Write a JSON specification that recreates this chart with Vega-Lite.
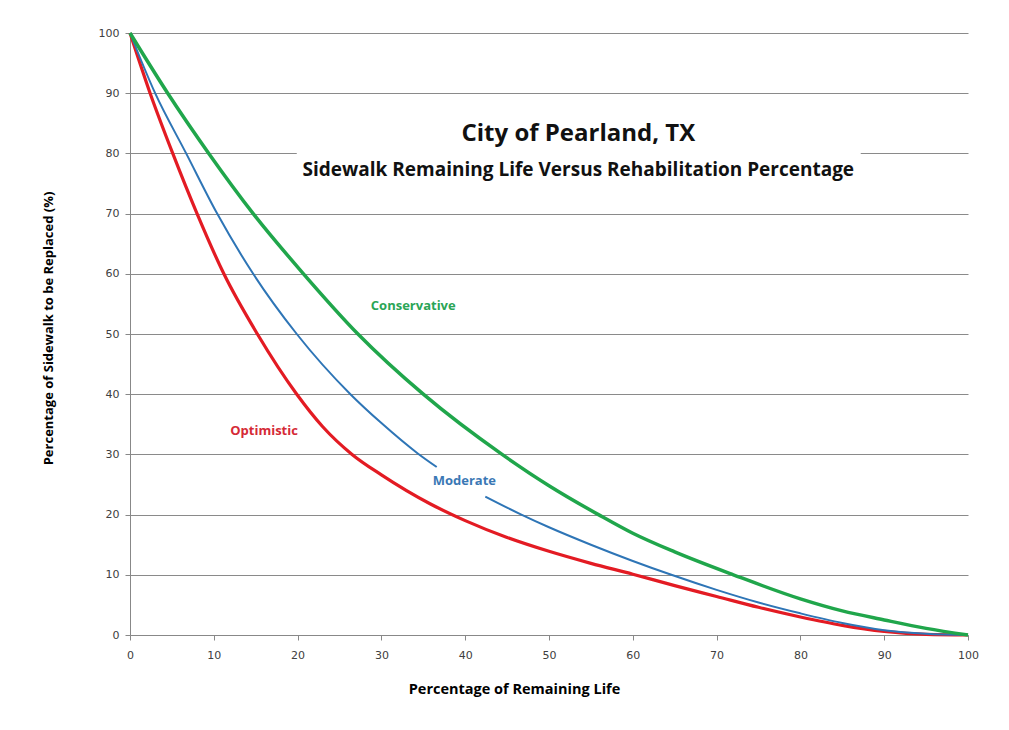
{
  "$schema": "https://vega.github.io/schema/vega-lite/v6.json",
  "width": 838,
  "height": 602,
  "autosize": {"type": "none"},
  "padding": {"left": 130, "top": 33, "right": 41, "bottom": 95},
  "background": "white",
  "config": {"view": {"stroke": null}, "font": "Open Sans"},
  "layer": [
    {
      "data": {
        "values": [
          {"series": "Optimistic", "seg": "o", "x": 0, "y": 100},
          {"series": "Optimistic", "seg": "o", "x": 2.4, "y": 90},
          {"series": "Optimistic", "seg": "o", "x": 5.1, "y": 80},
          {"series": "Optimistic", "seg": "o", "x": 8, "y": 70},
          {"series": "Optimistic", "seg": "o", "x": 11.2, "y": 60},
          {"series": "Optimistic", "seg": "o", "x": 15.2, "y": 50},
          {"series": "Optimistic", "seg": "o", "x": 19.9, "y": 40},
          {"series": "Optimistic", "seg": "o", "x": 23, "y": 34.6},
          {"series": "Optimistic", "seg": "o", "x": 26.5, "y": 30},
          {"series": "Optimistic", "seg": "o", "x": 30, "y": 26.6},
          {"series": "Optimistic", "seg": "o", "x": 35.8, "y": 21.8},
          {"series": "Optimistic", "seg": "o", "x": 40, "y": 19},
          {"series": "Optimistic", "seg": "o", "x": 45, "y": 16.2},
          {"series": "Optimistic", "seg": "o", "x": 50, "y": 13.9},
          {"series": "Optimistic", "seg": "o", "x": 55, "y": 11.9},
          {"series": "Optimistic", "seg": "o", "x": 60, "y": 10.1},
          {"series": "Optimistic", "seg": "o", "x": 65, "y": 8.2},
          {"series": "Optimistic", "seg": "o", "x": 70, "y": 6.4},
          {"series": "Optimistic", "seg": "o", "x": 75, "y": 4.6},
          {"series": "Optimistic", "seg": "o", "x": 80, "y": 3},
          {"series": "Optimistic", "seg": "o", "x": 85, "y": 1.6},
          {"series": "Optimistic", "seg": "o", "x": 90, "y": 0.6},
          {"series": "Optimistic", "seg": "o", "x": 95, "y": 0.1},
          {"series": "Optimistic", "seg": "o", "x": 100, "y": 0},
          {"series": "Moderate", "seg": "m1", "x": 0, "y": 100},
          {"series": "Moderate", "seg": "m1", "x": 3, "y": 90},
          {"series": "Moderate", "seg": "m1", "x": 6.7, "y": 80},
          {"series": "Moderate", "seg": "m1", "x": 10.4, "y": 70},
          {"series": "Moderate", "seg": "m1", "x": 14.7, "y": 60},
          {"series": "Moderate", "seg": "m1", "x": 19.9, "y": 50},
          {"series": "Moderate", "seg": "m1", "x": 26.3, "y": 40},
          {"series": "Moderate", "seg": "m1", "x": 30, "y": 35.2},
          {"series": "Moderate", "seg": "m1", "x": 34.3, "y": 30.2},
          {"series": "Moderate", "seg": "m1", "x": 36.6, "y": 27.9},
          {"series": "Moderate", "seg": "m2", "x": 42.4, "y": 23},
          {"series": "Moderate", "seg": "m2", "x": 46.7, "y": 20},
          {"series": "Moderate", "seg": "m2", "x": 50, "y": 17.9},
          {"series": "Moderate", "seg": "m2", "x": 55, "y": 15},
          {"series": "Moderate", "seg": "m2", "x": 60, "y": 12.3},
          {"series": "Moderate", "seg": "m2", "x": 64.6, "y": 10},
          {"series": "Moderate", "seg": "m2", "x": 70, "y": 7.5},
          {"series": "Moderate", "seg": "m2", "x": 75, "y": 5.4},
          {"series": "Moderate", "seg": "m2", "x": 80, "y": 3.6},
          {"series": "Moderate", "seg": "m2", "x": 85, "y": 2},
          {"series": "Moderate", "seg": "m2", "x": 90, "y": 0.8},
          {"series": "Moderate", "seg": "m2", "x": 95, "y": 0.2},
          {"series": "Moderate", "seg": "m2", "x": 100, "y": 0},
          {"series": "Conservative", "seg": "c", "x": 0, "y": 100},
          {"series": "Conservative", "seg": "c", "x": 4.5, "y": 90},
          {"series": "Conservative", "seg": "c", "x": 9.4, "y": 80},
          {"series": "Conservative", "seg": "c", "x": 14.7, "y": 70},
          {"series": "Conservative", "seg": "c", "x": 20.7, "y": 60},
          {"series": "Conservative", "seg": "c", "x": 27.2, "y": 50},
          {"series": "Conservative", "seg": "c", "x": 35, "y": 40},
          {"series": "Conservative", "seg": "c", "x": 44.4, "y": 30},
          {"series": "Conservative", "seg": "c", "x": 50, "y": 24.8},
          {"series": "Conservative", "seg": "c", "x": 55.9, "y": 20},
          {"series": "Conservative", "seg": "c", "x": 60, "y": 16.9},
          {"series": "Conservative", "seg": "c", "x": 65, "y": 13.8},
          {"series": "Conservative", "seg": "c", "x": 72, "y": 10},
          {"series": "Conservative", "seg": "c", "x": 80, "y": 6},
          {"series": "Conservative", "seg": "c", "x": 85, "y": 4},
          {"series": "Conservative", "seg": "c", "x": 90, "y": 2.5},
          {"series": "Conservative", "seg": "c", "x": 95, "y": 1.1},
          {"series": "Conservative", "seg": "c", "x": 100, "y": 0}
        ]
      },
      "mark": {"type": "line", "interpolate": "monotone"},
      "encoding": {
        "x": {
          "field": "x",
          "type": "quantitative",
          "scale": {"domain": [0, 100], "nice": false},
          "axis": {
            "values": [0, 10, 20, 30, 40, 50, 60, 70, 80, 90, 100],
            "grid": false,
            "domainColor": "#888888",
            "tickColor": "#888888",
            "tickSize": 5,
            "labelPadding": 9,
            "labelFlush": false,
            "labelOverlap": false,
            "labelFont": "DejaVu Sans",
            "labelFontSize": 11,
            "labelColor": "#404040",
            "title": "Percentage of Remaining Life",
            "titleFont": "Open Sans",
            "titleFontSize": 14.5,
            "titleFontWeight": "bold",
            "titleColor": "#000000",
            "titlePadding": 22,
            "titleX": 384,
            "titleAlign": "center"
          }
        },
        "y": {
          "field": "y",
          "type": "quantitative",
          "scale": {"domain": [0, 100], "nice": false},
          "axis": {
            "values": [0, 10, 20, 30, 40, 50, 60, 70, 80, 90, 100],
            "grid": true,
            "gridColor": "#8a8a8a",
            "gridWidth": 1,
            "domainColor": "#888888",
            "tickColor": "#888888",
            "tickSize": 5,
            "labelPadding": 6,
            "labelFlush": false,
            "labelOverlap": false,
            "labelFont": "DejaVu Sans",
            "labelFontSize": 11,
            "labelColor": "#404040",
            "title": "Percentage of Sidewalk to be Replaced (%)",
            "titleFont": "Open Sans",
            "titleFontSize": 13,
            "titleFontWeight": "bold",
            "titleColor": "#000000",
            "titlePadding": 43,
            "titleY": 295,
            "titleAlign": "center"
          }
        },
        "color": {
          "field": "series",
          "type": "nominal",
          "scale": {"domain": ["Conservative", "Moderate", "Optimistic"], "range": ["#20a64b", "#2e75b6", "#e31b23"]},
          "legend": null
        },
        "strokeWidth": {
          "field": "series",
          "type": "nominal",
          "scale": {"type": "ordinal", "domain": ["Conservative", "Moderate", "Optimistic"], "range": [3.5, 2, 3.2]},
          "legend": null
        },
        "detail": {"field": "seg"}
      }
    },
    {
      "data": {"values": [{}]},
      "mark": {"type": "rect", "fill": "white"},
      "encoding": {
        "x": {"datum": 19.9, "type": "quantitative"},
        "x2": {"datum": 87.2},
        "y": {"datum": 74.5, "type": "quantitative"},
        "y2": {"datum": 88}
      }
    },
    {
      "data": {"values": [{}]},
      "mark": {"type": "text", "text": "City of Pearland, TX", "font": "Open Sans", "fontSize": 24, "fontWeight": "bold", "color": "#111111", "align": "center", "baseline": "middle"},
      "encoding": {"x": {"datum": 53.5, "type": "quantitative"}, "y": {"datum": 83.2, "type": "quantitative"}}
    },
    {
      "data": {"values": [{}]},
      "mark": {"type": "text", "text": "Sidewalk  Remaining  Life Versus  Rehabilitation  Percentage", "font": "Open Sans", "fontSize": 19, "fontWeight": "bold", "color": "#111111", "align": "center", "baseline": "middle"},
      "encoding": {"x": {"datum": 53.5, "type": "quantitative"}, "y": {"datum": 77.3, "type": "quantitative"}}
    },
    {
      "data": {"values": [{}]},
      "mark": {"type": "text", "text": "Conservative", "font": "Open Sans", "fontSize": 13, "fontWeight": "bold", "color": "#2aa556", "align": "center", "baseline": "middle"},
      "encoding": {"x": {"datum": 33.8, "type": "quantitative"}, "y": {"datum": 54.7, "type": "quantitative"}}
    },
    {
      "data": {"values": [{}]},
      "mark": {"type": "text", "text": "Optimistic", "font": "Open Sans", "fontSize": 13, "fontWeight": "bold", "color": "#d52a36", "align": "center", "baseline": "middle"},
      "encoding": {"x": {"datum": 16.0, "type": "quantitative"}, "y": {"datum": 33.9, "type": "quantitative"}}
    },
    {
      "data": {"values": [{}]},
      "mark": {"type": "text", "text": "Moderate", "font": "Open Sans", "fontSize": 13, "fontWeight": "bold", "color": "#3a78b5", "align": "center", "baseline": "middle"},
      "encoding": {"x": {"datum": 39.9, "type": "quantitative"}, "y": {"datum": 25.6, "type": "quantitative"}}
    }
  ]
}
